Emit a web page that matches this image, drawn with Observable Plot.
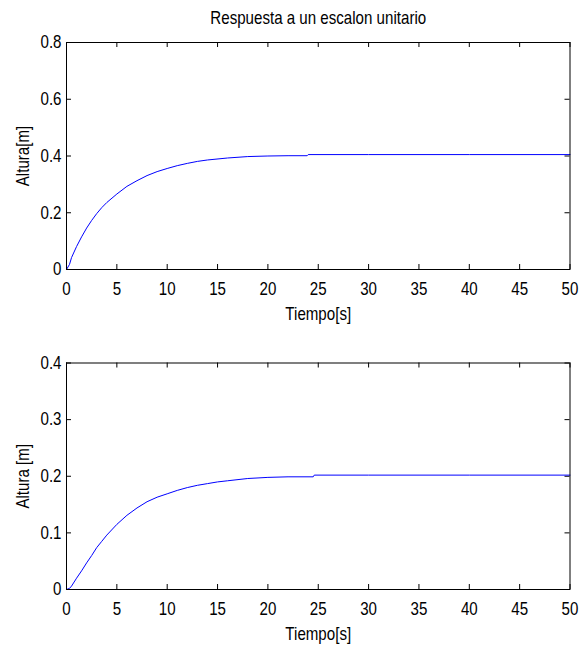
<!DOCTYPE html>
<html>
<head>
<meta charset="utf-8">
<script src="https://cdn.jsdelivr.net/npm/d3@7"></script>
<script src="https://cdn.jsdelivr.net/npm/@observablehq/plot@0.6"></script>
<style>
  body { margin: 0; background: #fff; }
  #chart svg { display: block; }
</style>
</head>
<body>
<div id="chart"></div>
<script>
// ---- Data ----
const title = "Respuesta a un escalon unitario";
const xLabel = "Tiempo[s]";
const yLabelTop = "Altura[m]";
const yLabelBottom = "Altura [m]";

const xTicks = [0, 5, 10, 15, 20, 25, 30, 35, 40, 45, 50];
const yTicksTop = [0, 0.2, 0.4, 0.6, 0.8];
const yTicksBottom = [0, 0.1, 0.2, 0.3, 0.4];

// Top panel: first-order response
const timeTop   = [0, 0.3, 0.5, 1, 1.5, 2, 2.5, 3, 3.5, 4, 5, 6, 7, 8, 9, 10, 11, 12, 13, 14, 16, 18, 20, 22, 23.9, 24, 30, 40, 50];
const heightTop = [0, 0.018, 0.042, 0.081, 0.115, 0.146, 0.173, 0.197, 0.218, 0.236, 0.266, 0.293, 0.313, 0.331, 0.345, 0.356, 0.366, 0.374, 0.381, 0.386, 0.393, 0.398, 0.400, 0.401, 0.401, 0.405, 0.405, 0.405, 0.405];

// Bottom panel: S-shaped response
const timeBottom   = [0, 0.3, 0.5, 1, 1.5, 2, 2.5, 3, 3.5, 4, 5, 6, 7, 8, 9, 10, 11, 12, 13, 14, 15, 16, 18, 20, 22, 24.5, 24.6, 30, 40, 50];
const heightBottom = [0, 0.002, 0.006, 0.020, 0.033, 0.047, 0.060, 0.074, 0.085, 0.096, 0.115, 0.131, 0.144, 0.155, 0.163, 0.169, 0.175, 0.180, 0.184, 0.187, 0.190, 0.192, 0.196, 0.198, 0.199, 0.199, 0.202, 0.202, 0.202, 0.202];

// ---- Drawing ----
const FONT = "'Liberation Sans', Arial, Helvetica, sans-serif";
const W = 585, ML = 66, MR = 15.5, TICK = 5;
const CONDENSE = 0.84; // narrow-font look of the original

function condense(svg, k) {
  svg.querySelectorAll("text").forEach(t => {
    const tr = t.getAttribute("transform");
    if (tr) {
      t.setAttribute("transform", tr + ` scale(${k},1)`);
    } else {
      const x = parseFloat(t.getAttribute("x")) || 0;
      t.setAttribute("transform", `translate(${x},0) scale(${k},1) translate(${-x},0)`);
    }
  });
  return svg;
}

function panel({time, values, yTicks, yMax, yLabel, height, marginTop, marginBottom, heading}) {
  const fh = height - marginTop - marginBottom;
  const fw = W - ML - MR;
  const data = time.map((t, i) => ({t, h: values[i]}));
  const marks = [
    Plot.axisX(xTicks, {anchor: "bottom", tickSize: 0, tickPadding: 13, label: null, tickFormat: d => String(d)}),
    Plot.axisY(yTicks, {anchor: "left", tickSize: 0, tickPadding: 5, label: null, tickFormat: d => String(d)}),
    Plot.tickX(xTicks, {x: d => d, insetTop: fh - TICK, stroke: "black"}),
    Plot.tickX(xTicks, {x: d => d, insetBottom: fh - TICK, stroke: "black"}),
    Plot.tickY(yTicks, {y: d => d, insetRight: fw - TICK, stroke: "black"}),
    Plot.tickY(yTicks, {y: d => d, insetLeft: fw - TICK, stroke: "black"}),
    Plot.line(data, {x: "t", y: "h", stroke: "#0000ff", strokeWidth: 1}),
    Plot.frame({stroke: "black", strokeWidth: 1}),
    Plot.text([xLabel], {frameAnchor: "bottom", lineAnchor: "top", dy: 38, fill: "black"}),
    Plot.text([yLabel], {frameAnchor: "left", textAnchor: "middle", lineAnchor: "middle", rotate: -90, dx: -43, fill: "black"})
  ];
  if (heading) {
    marks.push(Plot.text([heading], {frameAnchor: "top", lineAnchor: "bottom", dy: -19, fill: "black"}));
  }
  const svg = Plot.plot({
    width: W, height,
    marginLeft: ML, marginRight: MR, marginTop, marginBottom,
    style: {fontFamily: FONT, fontSize: "18px", color: "black", background: "white", overflow: "visible"},
    x: {domain: [0, 50]},
    y: {domain: [0, yMax]},
    marks
  });
  return condense(svg, CONDENSE);
}

const chart = document.getElementById("chart");
chart.append(panel({time: timeTop, values: heightTop, yTicks: yTicksTop, yMax: 0.8, yLabel: yLabelTop,
  height: 320, marginTop: 42, marginBottom: 51, heading: title}));
chart.append(panel({time: timeBottom, values: heightBottom, yTicks: yTicksBottom, yMax: 0.4, yLabel: yLabelBottom,
  height: 327, marginTop: 42.5, marginBottom: 58}));
</script>
</body>
</html>
